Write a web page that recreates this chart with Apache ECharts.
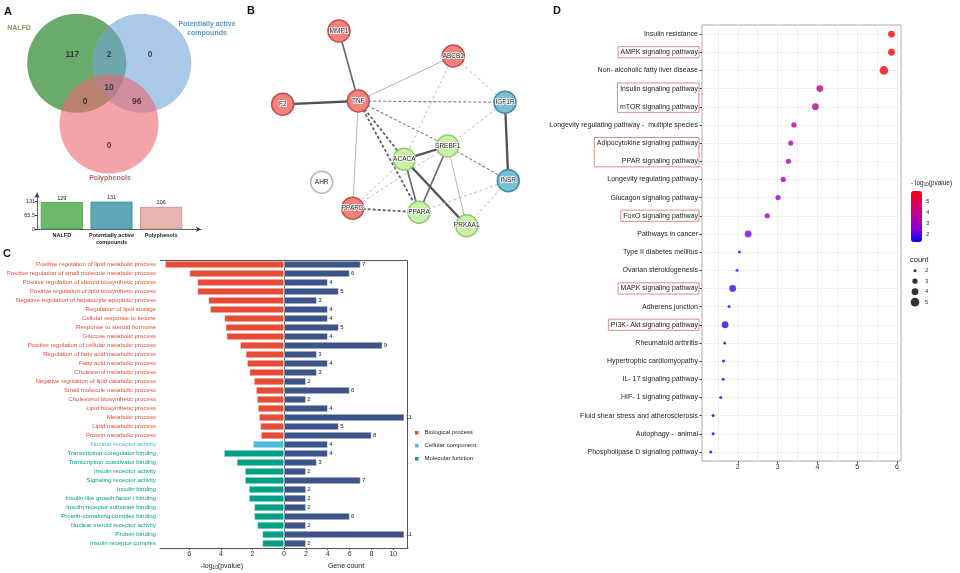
<!DOCTYPE html>
<html><head><meta charset="utf-8">
<script src="https://cdn.jsdelivr.net/npm/echarts@6/dist/echarts.min.js"></script>
<style>html,body{margin:0;padding:0;background:#fff}#c{width:960px;height:573px}</style>
</head><body><div id="c"></div>
<script>
// ================= DATA =================
// Panel A – Venn
const vennSetNames = ['NALFD', 'Potentially active\ncompounds', 'Polyphenols'];
const vennRegionCounts = [117, 2, 0, 10, 0, 96, 0];
// Panel A – set sizes
const setSizeCategories = ['NALFD', 'Potentially active\ncompounds', 'Polyphenols'];
const setSizes = [129, 131, 106];
const setSizeTicks = [0, 65.5, 131];

// Panel B – network
const nodeNames  = ['MMP1','ABCB1','F2','TNF','IGF1R','SREBF1','ACACA','AHR','INSR','PPARD','PPARA','PRKAA1'];
const nodeGroups = ['red','red','red','red','blue','green','green','none','blue','red','green','green'];
const nodeX = [99, 213.3, 42.7, 118.3, 265, 207.7, 164.3, 81.7, 268.3, 112.7, 179, 226.7];
const nodeY = [31, 56, 104.3, 101, 102.3, 146, 159.3, 182.3, 180.7, 208.3, 212.3, 225.7];
const edgeSource = ['MMP1','F2','TNF','TNF','TNF','TNF','TNF','TNF','ABCB1','ABCB1','IGF1R','IGF1R','SREBF1','SREBF1','SREBF1','SREBF1','SREBF1','ACACA','ACACA','ACACA','PPARD','INSR','INSR'];
const edgeTarget = ['TNF','TNF','ABCB1','PPARD','IGF1R','SREBF1','ACACA','PPARA','IGF1R','ACACA','SREBF1','INSR','INSR','ACACA','PPARA','PRKAA1','PPARD','PPARD','PPARA','PRKAA1','PPARA','PPARA','PRKAA1'];
const edgeKind   = ['medium','strong','weak','weak','dash','dash','dashDark','dashDark','dashLight','dashLight','dashLight','strong','dash','strong','medium','weak','dashLight','dashLight','medium','strong','dashDark','dashLight','dashLight'];

// Panel C – GO enrichment
const goTerms = ['Positive regulation of lipid metabolic process','Positive regulation of small molecule metabolic process','Positive regulation of steroid biosynthetic process','Positive regulation of lipid biosynthetic process','Negative regulation of hepatocyte apoptotic process','Regulation of lipid storage','Cellular response to ketone','Response to steroid hormone','Glucose metabolic process','Positive regulation of cellular metabolic process','Regulation of fatty acid metabolic process','Fatty acid metabolic process','Cholesterol metabolic process','Negative regulation of lipid catabolic process','Small molecule metabolic process','Cholesterol biosynthetic process','Lipid biosynthetic process','Metabolic process','Lipid metabolic process','Protein metabolic process','Nuclear receptor activity','Transcription coregulator binding','Transcription coactivator binding','Insulin receptor activity','Signaling receptor activity','Insulin binding','Insulin-like growth factor I binding','Insulin receptor substrate binding','Protein-containing complex binding','Nuclear steroid receptor activity','Protein binding','Insulin receptor complex'];
const goCategory = ['BP','BP','BP','BP','BP','BP','BP','BP','BP','BP','BP','BP','BP','BP','BP','BP','BP','BP','BP','BP','CC','MF','MF','MF','MF','MF','MF','MF','MF','MF','MF','MF'];
const goLogP  = [7.53,5.99,5.49,5.49,4.79,4.68,3.78,3.69,3.63,2.78,2.42,2.34,2.19,1.90,1.77,1.71,1.65,1.58,1.50,1.46,1.96,3.80,2.99,2.47,2.47,2.22,2.22,1.88,1.88,1.69,1.37,1.37];
const goCount = [7,6,4,5,3,4,4,5,4,9,3,4,3,2,6,2,4,11,5,8,4,4,3,2,7,2,2,2,6,2,11,2];
const goCategoryNames = {BP:'Biological process', CC:'Cellular component', MF:'Molecular function'};
const goLeftTicks = [0,2,4,6];
const goRightTicks = [0,2,4,6,8,10];
const goRightLabels = [2,4,6,8,10];

// Panel D – KEGG
const keggPathways = ['Insulin resistance','AMPK signaling pathway','Non- alcoholic fatty liver disease','Insulin signaling pathway','mTOR signaling pathway','Longevity regulating pathway -  multiple species','Adipocytokine signaling pathway','PPAR signaling pathway','Longevity regulating pathway','Glucagon signaling pathway','FoxO signaling pathway','Pathways in cancer','Type II diabetes mellitus','Ovarian steroidogenesis','MAPK signaling pathway','Adherens junction','PI3K- Akt signaling pathway','Rheumatoid arthritis','Hypertrophic cardiomyopathy','IL- 17 signaling pathway','HIF- 1 signaling pathway','Fluid shear stress and atherosclerosis','Autophagy -  animal','Phospholipase D signaling pathway'];
const keggLogP  = [5.86,5.86,5.67,4.06,3.95,3.41,3.33,3.27,3.14,3.01,2.74,2.26,2.04,1.98,1.87,1.78,1.68,1.67,1.64,1.63,1.57,1.38,1.38,1.32];
const keggCount = [4,4,5,4,4,3,3,3,3,3,3,4,2,2,4,2,4,2,2,2,2,2,2,2];
const keggTicks = [2,3,4,5,6];
const keggBoxed = [['AMPK signaling pathway'],['Insulin signaling pathway','mTOR signaling pathway'],['Adipocytokine signaling pathway','PPAR signaling pathway'],['FoxO signaling pathway'],['MAPK signaling pathway'],['PI3K- Akt signaling pathway']];
const colorbarTicks = [2,3,4,5];
const countLegend = [2,3,4,5];

// ================= STYLE / LAYOUT =================
const SANS = '"Liberation Sans", Arial, sans-serif';
const vennCenters = [[76.7,63.3],[141.7,63.3],[109,124]];
const vennColors = ['#077107','#71a3d9','#ed676e'];
const vennLabelPos = [[72.3,55],[109,55],[150,55],[109,87.3],[85,101.7],[136.7,101.7],[109,145.7]];
const vennNamePos = [[19,28],[207,29],[110,178]];
const vennNameColors = ['#6b7f2e','#2e7bbf','#a3433d'];
const barFill = ['#6cb96c','#5fa6b8','#e8b4b0'];
const barBorder = ['#4f9a4f','#3f8ca0','#c98a86'];
const groupStyle = {
  red: {color:'#f2837c', borderColor:'#c0504a'},
  green: {color:'#cdf0a8', borderColor:'#98c878'},
  blue: {color:'#7cc0d6', borderColor:'#3d8aa8'},
  none: {color:'#ffffff', borderColor:'#b8b8b8'}
};
const edgeStyle = {
  strong: {color:'#50505e', width:2.3, type:'solid'},
  medium: {color:'#6a6a78', width:1.7, type:'solid'},
  weak: {color:'#b4b4b4', width:1, type:'solid'},
  dashDark: {color:'#62626c', width:1.8, type:[3,2]},
  dash: {color:'#86868e', width:1.2, type:[3,2]},
  dashLight: {color:'#b8b8b8', width:1, type:[3,2.5]}
};
const goColors = {BP:'#E64B35', CC:'#4DBBD5', MF:'#00A087'};
const C_LEFT = 160, C_MID = 284, C_RIGHT = 408, C_TOP = 260, C_BOT = 548;
const D_LEFT = 702, D_TOP = 25, D_W = 199, D_H = 436;
const sizeOf = c => ({2:3, 3:5.2, 4:6.8, 5:8.6})[c];

const hiddenAxis = (gi, min, max, inv) => ({gridIndex: gi, type: 'value', min, max, inverse: !!inv, show: false});
const G = o => Object.assign({outerBoundsMode: 'none', containLabel: false}, o);

// ================= CHART =================
const chart = echarts.init(document.getElementById('c'), null, {renderer: 'canvas', width: 960, height: 573});

const grids = [
  G({left: 0, top: 0, width: 240, height: 190}),                 // 0 venn
  G({left: 37, top: 193, width: 149, height: 36.3}),             // 1 A bars
  G({left: 37, top: 193, width: 164, height: 36.3}),             // 2 A x arrow
  G({left: 240, top: 0, width: 330, height: 260}),               // 3 network
  G({left: C_LEFT, top: C_TOP, width: C_MID - C_LEFT, height: C_BOT - C_TOP}),  // 4 C left
  G({left: C_MID, top: C_TOP, width: C_RIGHT - C_MID, height: C_BOT - C_TOP}),  // 5 C right
  G({left: D_LEFT, top: D_TOP, width: D_W, height: D_H, show: true, borderColor: '#ababab', borderWidth: 1, backgroundColor: 'transparent'}), // 6 D
  G({left: 911, top: 191, width: 11, height: 51}),               // 7 colorbar ticks
  G({left: 908, top: 265.4, width: 14, height: 42})              // 8 count legend
];

const xAxes = [
  hiddenAxis(0, 0, 240),
  {gridIndex: 1, type: 'category', data: setSizeCategories, axisLine: {show: false}, axisTick: {show: false},
   axisLabel: {fontSize: 5.5, fontWeight: 'bold', color: '#222', margin: 3, lineHeight: 6.5, fontFamily: SANS, interval: 0}},
  {gridIndex: 2, type: 'value', min: 0, max: 1, axisLine: {show: true, onZero: false, symbol: ['none','arrow'], symbolSize: [4,5], lineStyle: {color: '#333', width: 0.8}},
   axisTick: {show: false}, axisLabel: {show: false}, splitLine: {show: false}},
  hiddenAxis(3, 0, 330),
  {gridIndex: 4, type: 'value', inverse: true, min: 0, max: (C_MID - C_LEFT) / 15.78,
   axisLine: {show: true, lineStyle: {color: '#555', width: 1}},
   axisTick: {show: true, customValues: goLeftTicks, length: 2, lineStyle: {color: '#555'}},
   axisLabel: {customValues: goLeftTicks, fontSize: 7, color: '#333', margin: 3, fontFamily: SANS},
   splitLine: {show: false},
   name: '-log{s|10}(pvalue)', nameLocation: 'middle', nameGap: 13,
   nameTextStyle: {fontSize: 7, color: '#222', fontFamily: SANS, rich: {s: {fontSize: 4.8, verticalAlign: 'bottom', color: '#222', padding: [3,0,0,0]}}}},
  {gridIndex: 5, type: 'value', min: 0, max: (C_RIGHT - C_MID) / 10.93,
   axisLine: {show: true, lineStyle: {color: '#555', width: 1}},
   axisTick: {show: true, customValues: goRightTicks, length: 2, lineStyle: {color: '#555'}},
   axisLabel: {customValues: goRightLabels, fontSize: 7, color: '#333', margin: 3, fontFamily: SANS},
   splitLine: {show: false},
   name: 'Gene count', nameLocation: 'middle', nameGap: 13, nameTextStyle: {fontSize: 7, color: '#222', fontFamily: SANS}},
  {gridIndex: 6, type: 'value', min: 1.1, max: 6.1,
   axisLine: {show: false},
   axisTick: {show: true, customValues: keggTicks, length: 2.5, lineStyle: {color: '#444'}},
   axisLabel: {customValues: keggTicks, fontSize: 7, color: '#333', margin: 3, fontFamily: SANS},
   splitLine: {show: false}},
  hiddenAxis(7, 0, 1),
  hiddenAxis(8, 0, 1)
];

const yAxes = [
  hiddenAxis(0, 0, 190, true),
  {gridIndex: 1, type: 'value', min: 0, max: 172,
   axisLine: {show: true, symbol: ['none','arrow'], symbolSize: [4,5], lineStyle: {color: '#333', width: 0.8}},
   axisTick: {show: true, customValues: setSizeTicks, length: 2, lineStyle: {color: '#333'}},
   axisLabel: {customValues: setSizeTicks, fontSize: 5.5, color: '#222', margin: 2, fontFamily: SANS},
   splitLine: {show: false}},
  hiddenAxis(2, 0, 1),
  hiddenAxis(3, 0, 260, true),
  {gridIndex: 4, type: 'category', data: goTerms, inverse: true,
   axisLine: {show: true, lineStyle: {color: '#555', width: 1}},
   axisTick: {show: true, alignWithLabel: true, length: 2, lineStyle: {color: '#555'}},
   axisLabel: {interval: 0, fontSize: 6.1, fontFamily: SANS, margin: 4,
     color: (v, i) => goColors[goCategory[i]]}},
  {gridIndex: 5, type: 'category', data: goTerms, inverse: true, show: false},
  {gridIndex: 6, type: 'category', data: keggPathways, inverse: true,
   axisLine: {show: false},
   axisTick: {show: true, alignWithLabel: true, length: 2.5, lineStyle: {color: '#444'}},
   axisLabel: {interval: 0, fontSize: 7, color: '#222', margin: 4, fontFamily: SANS}},
  {gridIndex: 7, type: 'value', min: 1.3, max: 5.9, position: 'right',
   axisLine: {show: false},
   axisTick: {show: true, inside: true, customValues: colorbarTicks, length: 2.5, lineStyle: {color: '#fff', width: 0.8}},
   axisLabel: {customValues: colorbarTicks, fontSize: 6, color: '#333', margin: 4, fontFamily: SANS},
   splitLine: {show: false}},
  {gridIndex: 8, type: 'category', data: countLegend.map(String), inverse: true, position: 'right',
   axisLine: {show: false}, axisTick: {show: false},
   axisLabel: {fontSize: 6, color: '#333', margin: 3, fontFamily: SANS}}
];

const series = [];
// 0 Venn circles
series.push({type: 'scatter', xAxisIndex: 0, yAxisIndex: 0, symbolSize: 99, silent: true, z: 1,
  data: vennCenters.map((p, i) => ({value: p, itemStyle: {color: vennColors[i], opacity: 0.6}}))});
// 1 Venn counts
series.push({type: 'scatter', xAxisIndex: 0, yAxisIndex: 0, symbolSize: 0, silent: true, z: 3,
  data: vennRegionCounts.map((c, i) => ({value: [vennLabelPos[i][0], vennLabelPos[i][1], c]})),
  label: {show: true, position: 'inside', formatter: p => p.value[2], fontSize: 8.5, fontWeight: 'bold', color: '#222', fontFamily: SANS}});
// 2 Venn set names
series.push({type: 'scatter', xAxisIndex: 0, yAxisIndex: 0, symbolSize: 0, silent: true, z: 3,
  data: vennSetNames.map((n, i) => ({value: vennNamePos[i], name: n,
    label: {show: true, position: 'inside', formatter: n, color: vennNameColors[i], fontSize: 7, fontWeight: 'bold', lineHeight: 9, fontFamily: SANS, align: 'center'}}))});
// 3 A bars
series.push({type: 'bar', xAxisIndex: 1, yAxisIndex: 1, barWidth: 42, silent: true,
  data: setSizes.map((v, i) => ({value: v, itemStyle: {color: barFill[i], borderColor: barBorder[i], borderWidth: 0.8}})),
  label: {show: true, position: 'top', distance: 1, fontSize: 5.5, color: '#222', fontFamily: SANS}});
// 4 A arrow grid dummy
series.push({type: 'scatter', xAxisIndex: 2, yAxisIndex: 2, data: []});
// 5 network
series.push({type: 'graph', coordinateSystem: 'cartesian2d', xAxisIndex: 3, yAxisIndex: 3, silent: true, z: 2,
  data: nodeNames.map((n, i) => ({name: n, value: [nodeX[i], nodeY[i]], symbolSize: 22,
    itemStyle: {color: groupStyle[nodeGroups[i]].color, borderColor: groupStyle[nodeGroups[i]].borderColor, borderWidth: 1.5}})),
  links: edgeSource.map((s, i) => ({source: s, target: edgeTarget[i], lineStyle: Object.assign({opacity: 1, curveness: 0}, edgeStyle[edgeKind[i]])})),
  label: {show: true, position: 'inside', fontSize: 6.5, color: '#222', textBorderColor: '#fff', textBorderWidth: 1.5, fontFamily: SANS},
  lineStyle: {opacity: 1}
});
// 6-8 C left bars
['BP','CC','MF'].forEach(cat => {
  series.push({type: 'bar', name: goCategoryNames[cat], xAxisIndex: 4, yAxisIndex: 4, stack: 'left', barCategoryGap: '20%', silent: true,
    itemStyle: {color: goColors[cat], borderColor: '#fff', borderWidth: 0.5},
    data: goLogP.map((v, i) => goCategory[i] === cat ? v : '-')});
});
// 9 C right bars
series.push({type: 'bar', name: 'Gene count', xAxisIndex: 5, yAxisIndex: 5, barCategoryGap: '20%', silent: true,
  itemStyle: {color: '#3C5488', borderColor: '#fff', borderWidth: 0.5},
  data: goCount,
  label: {show: true, position: 'right', distance: 1.5, fontSize: 6, color: '#222', fontFamily: SANS}});
// 10 D gridlines
const keggGridX = [];
for (let v = 1.5; v <= 6.0001; v += 0.5) keggGridX.push(+v.toFixed(1));
series.push({type: 'scatter', xAxisIndex: 6, yAxisIndex: 6, data: [], z: 1, silent: true,
  markLine: {silent: true, z: 1, symbol: ['none','none'], label: {show: false}, animation: false,
    lineStyle: {color: '#ebebeb', width: 0.8, type: 'solid'},
    emphasis: {disabled: true},
    data: keggGridX.map(v => ({xAxis: v})).concat(keggPathways.map((n, i) => ({yAxis: i})))}});
// 11 D scatter
series.push({type: 'scatter', xAxisIndex: 6, yAxisIndex: 6, z: 6, silent: true,
  data: keggPathways.map((n, i) => [keggLogP[i], i, keggCount[i]]),
  symbolSize: v => sizeOf(v[2])});
// 12 colorbar axis dummy
series.push({type: 'scatter', xAxisIndex: 7, yAxisIndex: 7, data: []});
// 13 count legend
series.push({type: 'scatter', xAxisIndex: 8, yAxisIndex: 8, silent: true, z: 3,
  data: countLegend.map((c, i) => ({value: [0.5, i], symbolSize: sizeOf(c)})),
  itemStyle: {color: '#000'}});

const letter = (id, t, x, y) => ({type: 'text', id, left: x, top: y, silent: true,
  style: {text: t, fontSize: 11, fontWeight: 'bold', fill: '#111', fontFamily: SANS}});

const staticGraphic = [
  letter('lA', 'A', 4, 6),
  letter('lB', 'B', 247, 5),
  letter('lC', 'C', 3, 248),
  letter('lD', 'D', 553, 5),
  {type: 'polyline', id: 'cframe', silent: true, z: 10,
   shape: {points: [[C_LEFT, C_TOP + 0.5], [C_RIGHT - 0.5, C_TOP + 0.5], [C_RIGHT - 0.5, C_BOT]]},
   style: {stroke: '#555', lineWidth: 1, fill: null}},
  {type: 'text', id: 'cbtitle', left: 911, top: 180, silent: true,
   style: {text: '- log{s|10}(pvalue)', fontSize: 6.5, fill: '#222', fontFamily: SANS,
     rich: {s: {fontSize: 4.5, verticalAlign: 'bottom', padding: [3,0,0,0], fill: '#222'}}}},
  {type: 'text', id: 'cnttitle', left: 910, top: 256, silent: true,
   style: {text: 'count', fontSize: 7.5, fill: '#222', fontFamily: SANS}}
];

chart.setOption({
  animation: false,
  backgroundColor: '#fff',
  textStyle: {fontFamily: SANS},
  grid: grids,
  xAxis: xAxes,
  yAxis: yAxes,
  series: series,
  legend: {show: true, data: ['Biological process','Cellular component','Molecular function'],
    orient: 'vertical', left: 413, top: 429, padding: 0, itemWidth: 5.5, itemHeight: 5.5, itemGap: 5.5, icon: 'rect',
    selectedMode: false, textStyle: {fontSize: 6, color: '#222', fontFamily: SANS}},
  visualMap: {type: 'continuous', seriesIndex: 11, dimension: 0, min: 1.3, max: 5.9,
    left: 911, top: 191, itemWidth: 11, itemHeight: 51, padding: 0, calculable: false, hoverLink: false,
    text: null, showLabel: false,
    inRange: {color: ['#0000ff', '#8a00d8', '#b8009e', '#da0062', '#ff0000']}},
  graphic: {elements: staticGraphic}
});

// label boxes for panel D
const ctx = document.createElement('canvas').getContext('2d');
ctx.font = '7px "Liberation Sans", Arial, sans-serif';
const labelRight = D_LEFT - 4;
const boxes = keggBoxed.map((grp, k) => {
  const ys = grp.map(n => chart.convertToPixel({yAxisIndex: 6}, keggPathways.indexOf(n)));
  const w = Math.max.apply(null, grp.map(n => ctx.measureText(n).width));
  const top = Math.min.apply(null, ys) - 5.6, bot = Math.max.apply(null, ys) + 5.6;
  const x0 = labelRight - w - 2.5, x1 = labelRight + 1;
  return {type: 'rect', id: 'box' + k, silent: true, z: 10,
    shape: {x: x0, y: top, width: x1 - x0, height: bot - top},
    style: {fill: null, stroke: '#d68d8d', lineWidth: 1}};
});
chart.setOption({graphic: {elements: staticGraphic.concat(boxes)}});
</script></body></html>
